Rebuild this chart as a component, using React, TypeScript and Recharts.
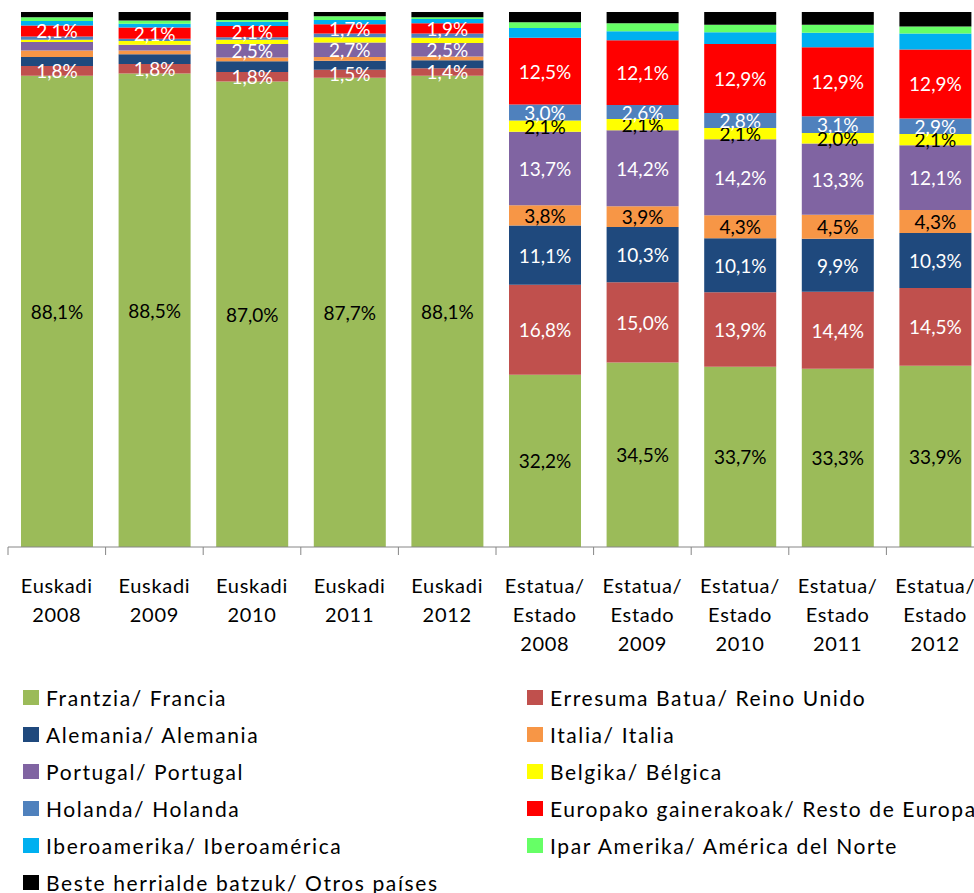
import { BarChart, Bar, XAxis, YAxis, LabelList } from 'recharts'

const categories = [
  ['Euskadi', '2008'],
  ['Euskadi', '2009'],
  ['Euskadi', '2010'],
  ['Euskadi', '2011'],
  ['Euskadi', '2012'],
  ['Estatua/', 'Estado', '2008'],
  ['Estatua/', 'Estado', '2009'],
  ['Estatua/', 'Estado', '2010'],
  ['Estatua/', 'Estado', '2011'],
  ['Estatua/', 'Estado', '2012'],
]

const francia = [88.1, 88.5, 87.0, 87.7, 88.1, 32.2, 34.5, 33.7, 33.3, 33.9]
const reinoUnido = [1.8, 1.8, 1.8, 1.5, 1.4, 16.8, 15.0, 13.9, 14.4, 14.5]
const alemania = [1.7, 1.8, 2.0, 1.7, 1.5, 11.1, 10.3, 10.1, 9.9, 10.3]
const italia = [1.2, 0.7, 0.7, 0.7, 0.7, 3.8, 3.9, 4.3, 4.5, 4.3]
const portugal = [1.6, 1.1, 2.5, 2.7, 2.5, 13.7, 14.2, 14.2, 13.3, 12.1]
const belgica = [0.4, 0.7, 0.8, 1.0, 1.0, 2.1, 2.1, 2.1, 2.0, 2.1]
const holanda = [0.6, 0.4, 0.5, 0.7, 0.8, 3.0, 2.6, 2.8, 3.1, 2.9]
const restoEuropa = [2.1, 2.1, 2.1, 1.7, 1.9, 12.5, 12.1, 12.9, 12.9, 12.9]
const iberoamerica = [0.8, 0.7, 0.8, 0.8, 0.8, 1.8, 1.7, 2.2, 2.7, 3.0]
const norteamerica = [0.7, 0.6, 0.3, 0.7, 0.3, 1.1, 1.5, 1.4, 1.5, 1.3]
const otros = [1.0, 1.6, 1.5, 0.8, 1.0, 1.9, 2.1, 2.4, 2.4, 2.7]

// labelFrom: first category index that shows a data label (null = never)
const series = [
  { key: 'francia', name: 'Frantzia/ Francia', values: francia, color: '#9BBB59', text: '#000', labelFrom: 0 },
  { key: 'reinoUnido', name: 'Erresuma Batua/ Reino Unido', values: reinoUnido, color: '#C0504D', text: '#fff', labelFrom: 0 },
  { key: 'alemania', name: 'Alemania/ Alemania', values: alemania, color: '#1F497D', text: '#fff', labelFrom: 5 },
  { key: 'italia', name: 'Italia/ Italia', values: italia, color: '#F79646', text: '#000', labelFrom: 5 },
  { key: 'portugal', name: 'Portugal/ Portugal', values: portugal, color: '#8064A2', text: '#fff', labelFrom: 2 },
  { key: 'belgica', name: 'Belgika/ Bélgica', values: belgica, color: '#FFFF00', text: '#000', labelFrom: 5 },
  { key: 'holanda', name: 'Holanda/ Holanda', values: holanda, color: '#4F81BD', text: '#fff', labelFrom: 5 },
  { key: 'restoEuropa', name: 'Europako gainerakoak/ Resto de Europa', values: restoEuropa, color: '#FF0000', text: '#fff', labelFrom: 0 },
  { key: 'iberoamerica', name: 'Iberoamerika/ Iberoamérica', values: iberoamerica, color: '#00B0F0', text: '#fff', labelFrom: null },
  { key: 'norteamerica', name: 'Ipar Amerika/ América del Norte', values: norteamerica, color: '#66FF66', text: '#000', labelFrom: null },
  { key: 'otros', name: 'Beste herrialde batzuk/  Otros países', values: otros, color: '#000000', text: '#fff', labelFrom: null },
]

const data = categories.map((lines, i) => {
  const row: Record<string, any> = { name: lines.join(' '), lines }
  series.forEach((s) => (row[s.key] = s.values[i]))
  return row
})

const FONT = 'Lato, Carlito, Calibri, sans-serif'
const CHART_W = 992
const MARGIN = { top: 12, right: 8, left: 8, bottom: 246 }
const BAND = (CHART_W - MARGIN.left - MARGIN.right) / categories.length

const fmt = (v: number) => v.toFixed(1).replace('.', ',') + '%'

function CategoryTick(props: any) {
  const { x, y, payload, index } = props
  const lines: string[] = data[index]?.lines ?? [String(payload.value)]
  return (
    <g>
      <line x1={x - BAND / 2} x2={x - BAND / 2} y1={y} y2={y + 8} stroke="#868686" />
      {index === categories.length - 1 && (
        <line x1={x + BAND / 2} x2={x + BAND / 2} y1={y} y2={y + 8} stroke="#868686" />
      )}
      <text
        x={x}
        y={y}
        textAnchor="middle"
        fontFamily={FONT}
        fontSize={20}
        letterSpacing={0.7}
        fill="#000"
      >
        {lines.map((l, i) => (
          <tspan key={i} x={x} y={y + 46 + i * 29}>
            {l}
          </tspan>
        ))}
      </text>
    </g>
  )
}

function makeLabel(s: (typeof series)[number]) {
  return (props: any) => {
    const { x, y, width, height, value, index } = props
    if (s.labelFrom === null || index < s.labelFrom) return null
    return (
      <text
        x={x + width / 2}
        y={y + height / 2}
        textAnchor="middle"
        dominantBaseline="central"
        fontFamily={FONT}
        fontSize={19}
        fill={s.text}
      >
        {fmt(Number(value))}
      </text>
    )
  }
}

function ChartLegend() {
  return (
    <div
      style={{
        position: 'absolute',
        left: 23,
        top: 679,
        display: 'grid',
        gridTemplateColumns: '504px 520px',
        fontFamily: FONT,
        fontSize: 21,
        letterSpacing: 1.6,
        whiteSpace: 'nowrap',
      }}
    >
      {series.map((s) => (
        <div key={s.key} style={{ display: 'flex', alignItems: 'center', height: 37 }}>
          <span style={{ width: 16, height: 15, background: s.color, marginRight: 7, flex: 'none' }} />
          <span>{s.name}</span>
        </div>
      ))}
    </div>
  )
}

export default function App() {
  return (
    <div
      style={{
        position: 'absolute',
        left: 0,
        top: 0,
        width: 974,
        height: 893,
        overflow: 'hidden',
        background: '#fff',
      }}
    >
      <BarChart width={CHART_W} height={893} data={data} margin={MARGIN} barSize={72}>
        <XAxis
          dataKey="name"
          height={100}
          interval={0}
          tickLine={false}
          tickSize={0}
          tickMargin={0}
          axisLine={{ stroke: '#868686' }}
          tick={<CategoryTick />}
        />
        <YAxis hide domain={[0, 100]} allowDataOverflow />
        {series.map((s) => (
          <Bar
            key={s.key}
            dataKey={s.key}
            name={s.name}
            stackId="a"
            fill={s.color}
            isAnimationActive={false}
          >
            <LabelList dataKey={s.key} content={makeLabel(s)} />
          </Bar>
        ))}
      </BarChart>
      <ChartLegend />
    </div>
  )
}
